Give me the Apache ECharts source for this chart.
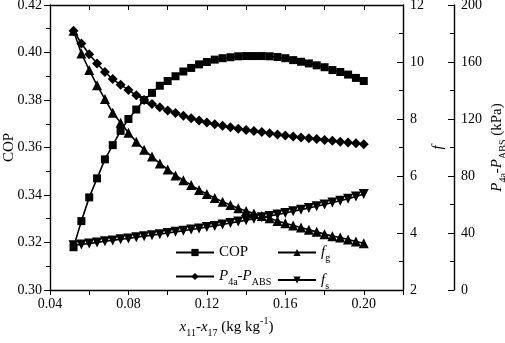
<!DOCTYPE html>
<html>
<head>
<meta charset="utf-8">
<script src="https://cdn.jsdelivr.net/npm/echarts@6/dist/echarts.min.js"></script>
<style>
  html, body { margin: 0; padding: 0; background: #fff; }
  #chart { width: 505px; height: 343px; }
</style>
</head>
<body>
<div id="chart"></div>
<script>
// x11-x17 (kg/kg)
const xValues = [0.052, 0.056, 0.060, 0.064, 0.068, 0.072, 0.076, 0.080, 0.084, 0.088,
  0.092, 0.096, 0.100, 0.104, 0.108, 0.112, 0.116, 0.120, 0.124, 0.128,
  0.132, 0.136, 0.140, 0.144, 0.148, 0.152, 0.156, 0.160, 0.164, 0.168,
  0.172, 0.176, 0.180, 0.184, 0.188, 0.192, 0.196, 0.200]

const copValues = [0.318, 0.329, 0.339, 0.347, 0.355, 0.361, 0.367, 0.372, 0.376, 0.380,
  0.383, 0.386, 0.388, 0.390, 0.392, 0.3935, 0.395, 0.396, 0.397, 0.3976,
  0.398, 0.3984, 0.3985, 0.3985, 0.3985, 0.3984, 0.3981, 0.3976, 0.3968, 0.3961,
  0.3954, 0.3946, 0.3938, 0.3926, 0.3918, 0.3907, 0.3893, 0.388]

const fgValues = [11.1, 10.3, 9.72, 9.18, 8.70, 8.22, 7.87, 7.52, 7.20, 6.92,
  6.68, 6.44, 6.23, 6.02, 5.85, 5.68, 5.51, 5.37, 5.23, 5.10,
  4.98, 4.87, 4.77, 4.68, 4.60, 4.52, 4.42, 4.34, 4.26, 4.19,
  4.11, 4.04, 3.96, 3.89, 3.84, 3.77, 3.70, 3.64]

const fsValues = [3.57, 3.60, 3.63, 3.67, 3.71, 3.74, 3.78, 3.81, 3.85, 3.89,
  3.92, 3.96, 4.00, 4.04, 4.08, 4.12, 4.16, 4.21, 4.25, 4.30,
  4.35, 4.40, 4.45, 4.50, 4.55, 4.60, 4.65, 4.70, 4.76, 4.82,
  4.88, 4.94, 5.00, 5.07, 5.13, 5.20, 5.28, 5.37]

// P4a - PABS (kPa)
const dpValues = [182, 173, 165.5, 159, 153, 148, 144, 140.4, 136.6, 133.4,
  130.6, 128.2, 126, 124.2, 122.2, 120.5, 118.9, 117.5, 116.3, 115.3,
  114.2, 113.2, 112.3, 111.6, 110.8, 110, 109.1, 108.4, 107.7, 107.1,
  106.5, 106, 105.3, 104.7, 104.1, 103.5, 102.9, 102.3]

const fontFamily = '"Liberation Serif", "DejaVu Serif", serif'
const black = '#000'

const rich = {
  n: { fontFamily: fontFamily, fontSize: 15, color: black, lineHeight: 22, verticalAlign: 'middle' },
  i: { fontFamily: fontFamily, fontSize: 15, color: black, fontStyle: 'italic', lineHeight: 22, verticalAlign: 'middle' },
  sub: { fontFamily: fontFamily, fontSize: 10, color: black, verticalAlign: 'bottom', lineHeight: 12 },
  sup: { fontFamily: fontFamily, fontSize: 10, color: black, verticalAlign: 'top', lineHeight: 12 }
}

const legendNames = {
  'COP': '{n|COP}',
  'fg': '{i|f}{sub|g}',
  'P4a-PABS': '{i|P}{sub|4a}{n|-}{i|P}{sub|ABS}',
  'fs': '{i|f}{sub|s}'
}

function pairs(ys) {
  return xValues.map((x, i) => [x, ys[i]])
}

const axisLine = { show: true, onZero: false, lineStyle: { color: black, width: 1.4 } }
const tickLabel = { color: black, fontFamily: fontFamily, fontSize: 14 }

const chart = echarts.init(document.getElementById('chart'))

function lineSeries(name, ys, yIdx, symbol, size, rotate) {
  return {
    name: name,
    type: 'line',
    yAxisIndex: yIdx,
    data: pairs(ys),
    symbol: symbol,
    symbolSize: size,
    symbolRotate: rotate || 0,
    showAllSymbol: true,
    lineStyle: { color: black, width: 1.6 },
    itemStyle: { color: black },
    emphasis: { disabled: true },
    animation: false
  }
}

const legendBase = {
  orient: 'vertical',
  padding: 0,
  itemWidth: 38,
  itemHeight: 9,
  itemGap: 9,
  textStyle: { fontFamily: fontFamily, fontSize: 15, color: black, rich: rich },
  formatter: (name) => legendNames[name]
}

const option = {
  backgroundColor: '#fff',
  animation: false,
  grid: { left: 50, right: 102, top: 5, bottom: 53, outerBoundsMode: 'none', containLabel: false },
  legend: [
    Object.assign({}, legendBase, { left: 175, top: 245, data: ['COP', 'P4a-PABS'] }),
    Object.assign({}, legendBase, { left: 277, top: 245, data: ['fg', 'fs'] })
  ],
  xAxis: [
    {
      type: 'value',
      min: 0.04, max: 0.22, interval: 0.04,
      name: '{i|x}{sub|11}{n|-}{i|x}{sub|17}{n| (kg kg}{sup|-1}{n|)}',
      nameLocation: 'middle',
      nameGap: 26,
      nameMoveOverlap: false,
      nameTextStyle: { rich: rich },
      axisLine: axisLine,
      axisTick: { show: true, inside: false, length: 5, lineStyle: { color: black } },
      minorTick: { show: true, splitNumber: 2, length: 5, lineStyle: { color: black } },
      axisLabel: Object.assign({ margin: 7, showMaxLabel: false, formatter: v => v.toFixed(2) }, tickLabel),
      splitLine: { show: false }
    },
    {
      type: 'value',
      position: 'top',
      min: 0.04, max: 0.22, interval: 0.04,
      axisLine: axisLine,
      axisTick: { show: true, inside: true, length: 5, lineStyle: { color: black } },
      minorTick: { show: true, splitNumber: 2, length: 5, lineStyle: { color: black } },
      axisLabel: { show: false },
      splitLine: { show: false }
    }
  ],
  yAxis: [
    {
      type: 'value',
      min: 0.30, max: 0.42, interval: 0.02,
      name: 'COP',
      nameLocation: 'middle',
      nameGap: 33,
      nameMoveOverlap: false,
      nameRotate: 90,
      nameTextStyle: { fontFamily: fontFamily, fontSize: 15, color: black },
      axisLine: axisLine,
      axisTick: { show: true, inside: false, length: 6, lineStyle: { color: black } },
      minorTick: { show: true, splitNumber: 2, length: 4, lineStyle: { color: black } },
      axisLabel: Object.assign({ margin: 8, formatter: v => v.toFixed(2) }, tickLabel),
      splitLine: { show: false }
    },
    {
      type: 'value',
      position: 'right',
      min: 2, max: 12, interval: 2,
      name: '{i|f}',
      nameLocation: 'middle',
      nameGap: 24,
      nameMoveOverlap: false,
      nameRotate: 90,
      nameTextStyle: { rich: rich },
      axisLine: axisLine,
      axisTick: { show: true, inside: true, length: 6, lineStyle: { color: black } },
      minorTick: { show: true, splitNumber: 2, length: 4, lineStyle: { color: black } },
      axisLabel: Object.assign({ margin: 7 }, tickLabel),
      splitLine: { show: false }
    },
    {
      type: 'value',
      position: 'right',
      offset: 51,
      min: 0, max: 200, interval: 40,
      name: '{i|P}{sub|4a}{n|-}{i|P}{sub|ABS}{n| (kPa)}',
      nameLocation: 'middle',
      nameGap: 32,
      nameMoveOverlap: false,
      nameRotate: 90,
      nameTextStyle: { rich: rich },
      axisLine: axisLine,
      axisTick: { show: true, inside: true, length: 6, lineStyle: { color: black } },
      minorTick: { show: true, splitNumber: 2, length: 4, lineStyle: { color: black } },
      axisLabel: Object.assign({ margin: 7 }, tickLabel),
      splitLine: { show: false }
    }
  ],
  series: [
    lineSeries('COP', copValues, 0, 'rect', 8),
    lineSeries('fg', fgValues, 1, 'triangle', 10),
    lineSeries('P4a-PABS', dpValues, 2, 'diamond', 10),
    lineSeries('fs', fsValues, 1, 'triangle', 10, 180)
  ]
}

chart.setOption(option)
window.addEventListener('resize', function() {
  chart.resize()
})
</script>
</body>
</html>
